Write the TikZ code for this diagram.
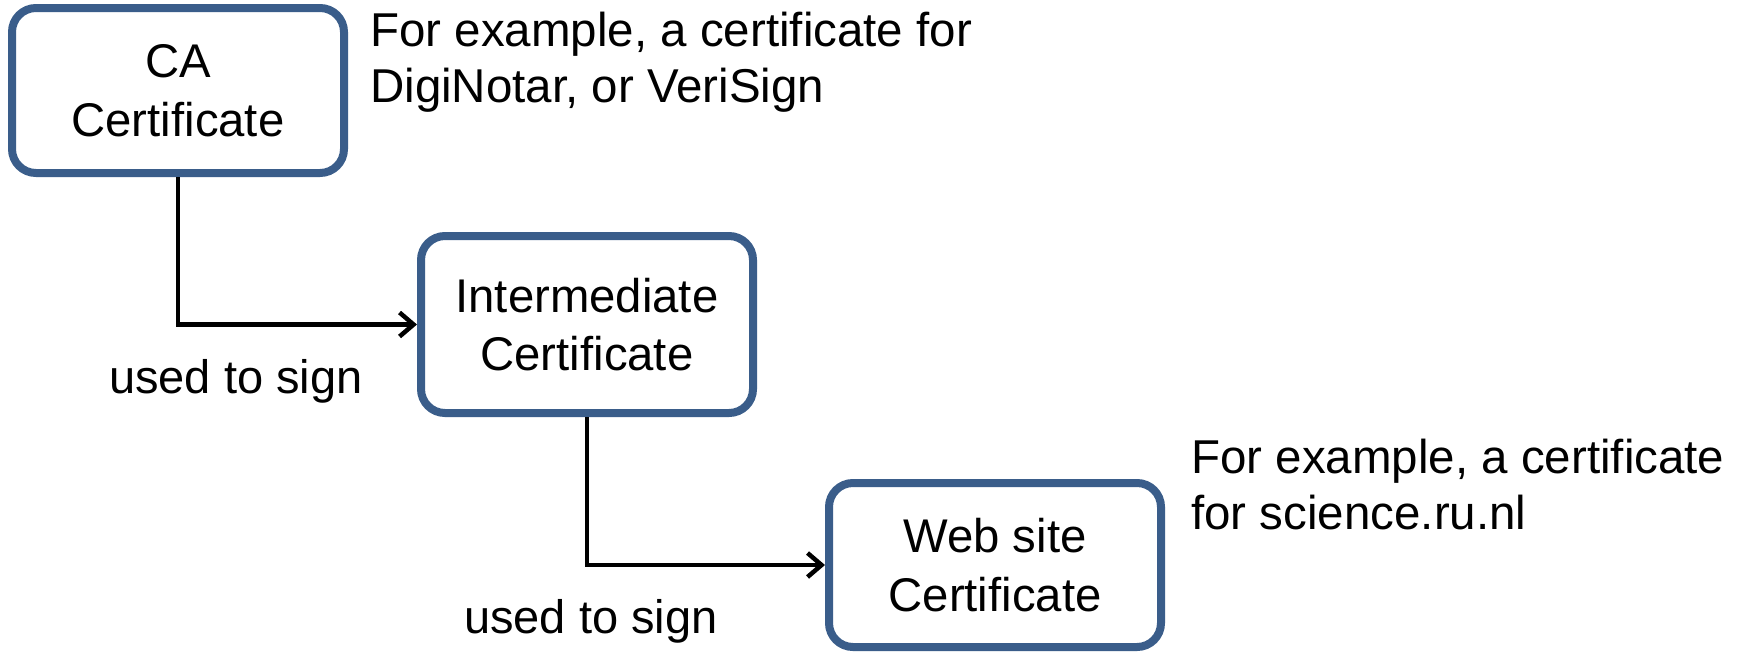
\documentclass[tikz,border=0pt]{standalone}
\usepackage{fontspec}
\setmainfont{Liberation Sans}
\usetikzlibrary{arrows.meta}
\definecolor{boxblue}{RGB}{58,93,138}
\tikzset{
  certbox/.style={draw=boxblue, line width=8pt, rounded corners=24pt, fill=white,
    minimum width=332pt, align=center, inner sep=0pt, font=\fontsize{47.3}{58.5}\selectfont},
  signarrow/.style={draw=black, line width=4.5pt, -{Straight Barb[length=14pt,width=24pt]}},
  note/.style={anchor=base west, inner sep=0pt, font=\fontsize{47.5}{56.8}\selectfont},
  lbl/.style={anchor=base west, inner sep=0pt, font=\fontsize{47}{57}\selectfont}
}
\begin{document}
\begin{tikzpicture}[x=1pt,y=-1pt]
\useasboundingbox[fill=white] (0,0) rectangle (1748,651);
\node[certbox, minimum height=165pt] (ca) at (178,90.5) {CA\\Certificate};
\node[certbox, minimum height=177pt] (inter) at (587,324.5) {Intermediate\\Certificate};
\node[certbox, minimum height=164pt] (web) at (995,565) {Web site\\Certificate};
\draw[signarrow] (ca.south) |- (inter.west);
\draw[signarrow] (inter.south) |- (web.west);
\node[lbl] (sign1) at (109,393) {used to sign};
\node[lbl] (sign2) at (464,633) {used to sign};
\node[note] (note1) at (370,46) {\vtop{\hbox{For example, a certificate for}\hbox{DigiNotar, or VeriSign}}};
\node[note] (note2) at (1191,473) {\vtop{\hbox{For example, a certificate}\hbox{for science.ru.nl}}};
\end{tikzpicture}
\end{document}
